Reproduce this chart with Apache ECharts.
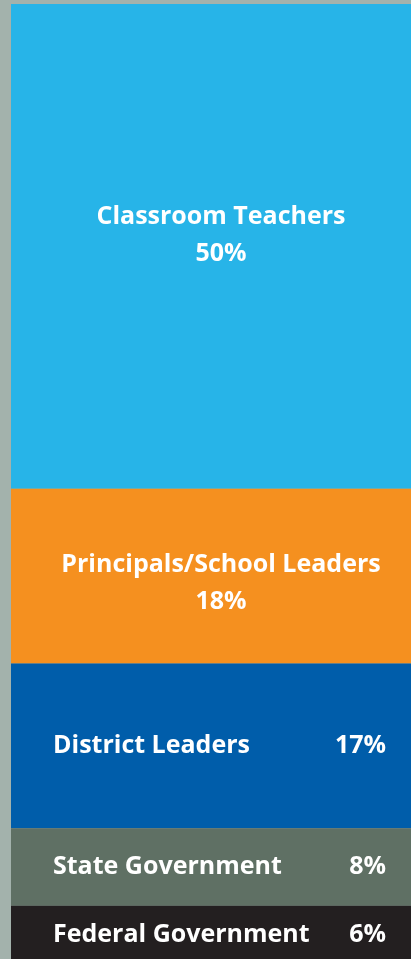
<!DOCTYPE html>
<html>
<head>
<meta charset="utf-8">
<script src="https://cdn.jsdelivr.net/npm/echarts@6/dist/echarts.min.js"></script>
<style>
html,body{margin:0;padding:0;background:#a3b2ac;}
#chart{width:411px;height:959px;}
</style>
</head>
<body>
<div id="chart"></div>
<script>
const categories = ['Classroom Teachers', 'Principals/School Leaders', 'District Leaders', 'State Government', 'Federal Government'];
const values = [50, 18, 17, 8, 6];
const colors = ['#27b4e8', '#f5901f', '#005daa', '#5f7064', '#231f20'];
const centeredLabels = [true, true, false, false, false];

const chart = echarts.init(document.getElementById('chart'));
const FS = 25;
const series = categories.map((name, i) => {
  const centered = centeredLabels[i];
  return {
    name: name,
    type: 'bar',
    stack: 'total',
    barWidth: '100%',
    data: [values[i]],
    itemStyle: { color: colors[i] },
    label: centered ? {
      show: true,
      position: 'inside',
      offset: [10, i === 0 ? -11 : 7],
      color: '#ffffff',
      fontFamily: 'Open Sans',
      fontWeight: 'bold',
      fontSize: FS,
      lineHeight: 37,
      align: 'center',
      formatter: p => p.seriesName + '\n' + p.value + '%'
    } : {
      show: true,
      position: 'insideLeft',
      offset: [37, 0],
      color: '#ffffff',
      fontFamily: 'Open Sans',
      fontWeight: 'bold',
      fontSize: FS,
      formatter: p => '{n|' + p.seriesName + '}{p|' + p.value + '%}',
      rich: {
        n: { width: 280, align: 'left', color: '#fff', fontFamily: 'Open Sans', fontWeight: 'bold', fontSize: FS },
        p: { width: 53, align: 'right', color: '#fff', fontFamily: 'Open Sans', fontWeight: 'bold', fontSize: FS }
      }
    }
  };
});

chart.setOption({
  backgroundColor: '#a3b2ac',
  animation: false,
  grid: { left: 11, right: 0, top: 4, bottom: -5, outerBoundsMode: 'none' },
  xAxis: { type: 'category', data: ['Share'], show: false },
  yAxis: { type: 'value', min: 0, max: 99, inverse: true, show: false },
  series: series
});
</script>
</body>
</html>
